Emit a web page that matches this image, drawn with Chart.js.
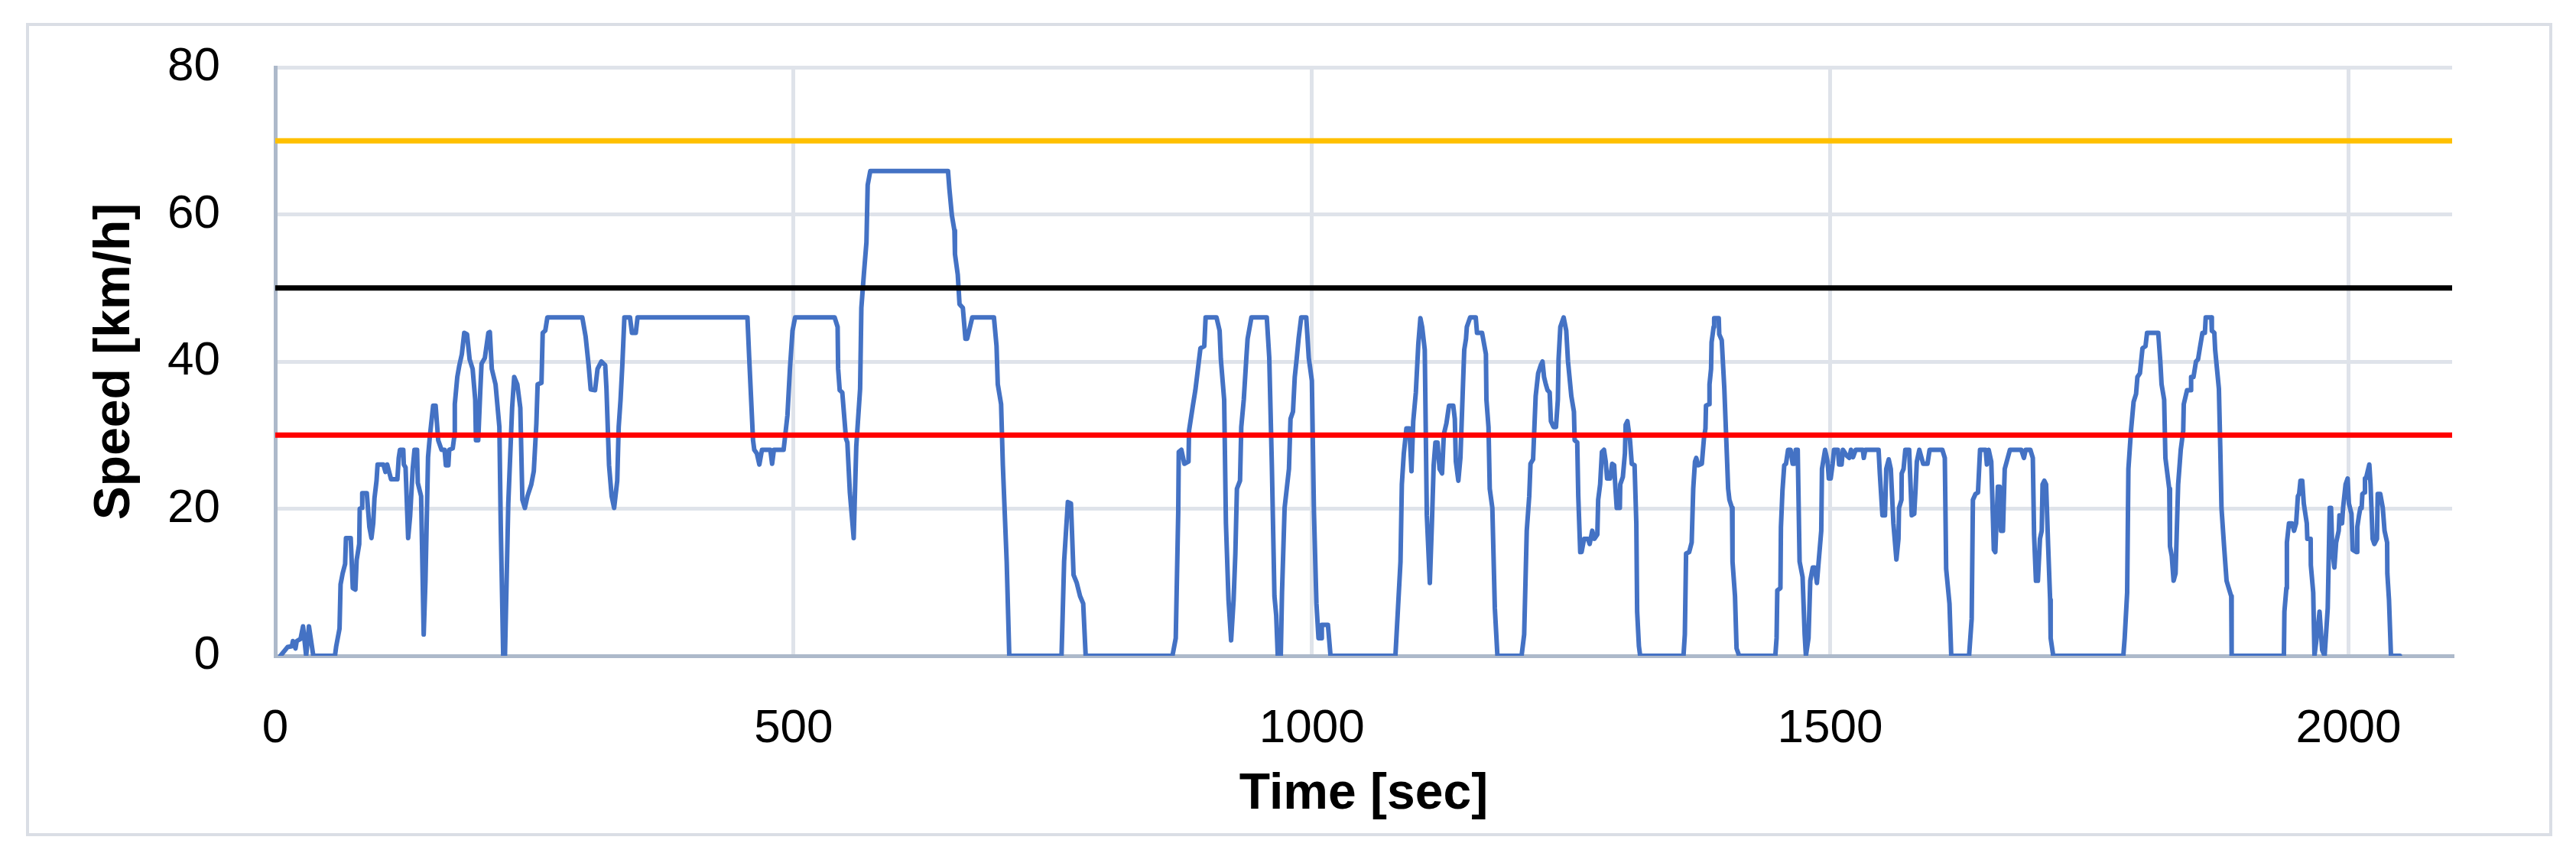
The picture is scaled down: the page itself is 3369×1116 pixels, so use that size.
<!DOCTYPE html>
<html>
<head>
<meta charset="utf-8">
<script src="https://cdn.jsdelivr.net/npm/chart.js@4.4.1/dist/chart.umd.min.js"></script>
<style>
  html, body { margin:0; padding:0; background:#fff; }
</style>
</head>
<body>
<canvas id="speedChart" width="3369" height="1116"></canvas>
<script>
  // drive cycle (time in s, speed in km/h)
  const timeSec = [
    5,12,16,17,19.5,20.7,24.4,26.8,29.8,32.5,36.7,57.6,58.8,62,63,65,67.4,68.2,72.8,74.8,77.3,78.5,81,81.5,83.4,83.9,88.3,90.8,92.8,94.5,95.7,97.7,98.7,
    104.3,106.3,108,111.7,117.8,119.1,120.3,123.5,124,125.7,128.2,130.1,132.6,134.3,136.8,137.5,140.7,143.2,144.9,147.4,149.1,152.3,154.7,157.2,160.4,163.3,164.6,167,167.8,
    171.2,172.7,173.2,175.6,177.6,180,182.3,185,187.5,190.4,192.9,193.6,195.8,197.8,199,202.2,205.6,207,208.9,212.5,216.2,217.5,219.9,221.6,224.8,228.5,230.5,233.5,236.4,
    238.4,240.8,243.3,247,249.4,251.9,253.1,256.8,258,260.5,262.5,296.2,299.4,302.3,304.3,308.5,310.9,314.6,318.3,319.5,322,324.5,326.9,329.9,331.3,333.1,334.8,336.8,
    342.2,344.1,347.8,349.5,455.5,457.2,460.9,462.1,464.6,467,469.5,477.6,479.3,481,490.4,494.1,496.5,499,501.5,539.6,542.5,543,544.5,547,550.6,551.9,554.3,558,560.5,
    564.2,565.4,567.9,570.3,571.5,574,649,650.3,652.7,655.2,655.7,658.4,660.1,663.3,665.8,667.5,672.4,693.3,695.8,697,700.2,701.9,705.6,708.1,758.5,761,764.6,767.6,
    770.1,773.2,776.4,779.4,781.8,865.5,868.7,871.1,871.6,874.1,877,881,881.5,885.2,887.6,890.1,892.5,896.2,897.5,908,911,912.2,915.4,917.1,919.6,922.1,924.5,926.2,
    927.7,930.7,931.9,934.3,936.8,938,941.7,956.5,958.9,961.4,963.9,965.6,967.1,970,971.2,973.7,977.9,979.4,981.8,983.5,985.3,987.2,989.7,994.6,997,1000,1002,1004.4,
    1006.4,1009.4,1009.6,1015.5,1018,1080.6,1083.1,1085.5,1086.8,1088.7,1091.2,1094.1,1096.1,1097.8,1100.3,1102.7,1104.7,1106.4,1108.9,1110.9,1113.8,1115.8,1117.5,
    1119.2,1121.2,1123.2,1125.6,1127.3,1129.8,1132.3,1136.4,1137.9,1138.9,1141.3,1143.3,1145.8,1147,1148.7,1149.5,1152.7,1158.1,1159.3,1164.2,1167.9,1168.4,1170.4,
    1171.6,1174.1,1176.5,1179,1202.3,1204.8,1207.3,1209.7,1210.9,1213.4,1215.9,1218.3,1220.8,1222.5,1224,1225.7,1227.4,1229.4,1230.6,1233.1,1235.5,1237.3,1238,1239.7,
    1242.9,1245.4,1247.1,1250.3,1252.8,1253.5,1256,1257,1258.9,1260.2,1262.6,1266.3,1268,1270.5,1272.5,1275.4,1276.2,1278.1,1279.8,1281.8,1283.5,1284.8,1287.7,1289.7,
    1291.6,1292.9,1294.1,1297.1,1297.5,1300,1302,1302.7,1304.4,1306.9,1308.6,1311.3,1313,1313.8,1315.5,1316.7,1358.5,1359.8,1361,1364,1366.4,1367.9,1369.6,1370.8,
    1372.8,1376.2,1378.2,1379.7,1380.2,1383.1,1383.6,1385.1,1385.6,1387.6,1388.1,1392.5,1393,1395.4,1397.9,1401.6,1402.8,1405.3,1405.8,1408.2,1409.7,1412.2,1447.1,
    1448.3,1449,1452,1452.5,1454,1455.7,1457.4,1459.4,1461.8,1463.8,1465.5,1466.8,1468.7,1470.5,1473.4,1475.4,1476.6,1479.1,1480.8,1483.2,1485.2,1487.2,1488.9,1491.4,
    1492.1,1495.1,1497.5,1498.7,1500.5,1502.4,1503.7,1507.4,1508.6,1511,1512.3,1516,1518.4,1520.1,1522.1,1524.6,1531.5,1532.4,1533.9,1546.7,1547.9,1550.4,1552.9,1554.1,
    1556.5,1558.5,1561,1563.9,1565.9,1566.4,1568.8,1569,1570.8,1572.5,1576.2,1578.7,1581.1,1582.4,1583.6,1586,1589.7,1593.9,1595.9,1608.2,1610.6,1611.9,1615.1,1616.8,
    1634,1636.5,1637.7,1640.2,1642.6,1644.6,1650,1651.2,1652.9,1655.4,1657.9,1659.3,1661.8,1663.5,1664.8,1666.7,1668.4,1670.9,1673.4,1684.4,1686.9,1688.6,1693.1,1695.5,
    1696.7,1698.5,1700.4,1702.4,1704.1,1704.9,1706.6,1708.3,1710.3,1712.2,1712.7,1715.2,1782.8,1784.1,1786.5,1787.7,1790.2,1792.7,1795.1,1796.4,1798.8,1801.3,1804.2,
    1805.7,1816.5,1818.5,1819.7,1822.2,1823.4,1827.1,1827.8,1829.5,1831.3,1833.2,1835.7,1838.2,1840.6,1841.1,1844.3,1848,1848.2,1850.5,1852.9,1854.9,1856.6,1859.1,
    1861.5,1862.3,1867.7,1868.2,1870.6,1871.4,1875,1876.3,1877.5,1880,1882.4,1886.9,1887.3,1937.7,1938.2,1940.1,1940.6,1942.6,1945.6,1947.5,1949.5,1951.2,1952.4,1953.7,
    1955.4,1956.9,1958.6,1959.8,1960.3,1963.5,1963.7,1966,1967.2,1969.7,1972.1,1974.6,1977,1980,1981.9,1983.2,1984.4,1986.4,1988.1,1990.6,1991.3,1993.8,1994.8,1997.2,
    1999.2,2000.4,2002.9,2004.1,2007.8,2008.5,2010.2,2011.5,2012.7,2013.4,2015.2,2015.9,2016.9,2020.1,2021.3,2023.3,2025,2027.5,2028.2,2030.7,2033.1,2034.8,2037.3,
    2037.5,2039.1,2041,2049.6
  ];
  const speedKmh = [
    0,1.2,1.3,2,1,2,2.3,4,0,4,0,0,1.3,3.7,9.7,11.2,12.5,16,16,9.2,9,13,15.2,20,20.1,22.1,22.1,17.5,16,18,21.4,23.8,26,
    26,25,26,24,24,26.9,28,28,26,25.6,16,19,25.4,28,28,23.5,21.7,2.9,10.2,27,29.8,34,34,29.3,28,28,25.9,25.9,28,
    28.2,29.8,34.2,37.9,39.5,41,43.9,43.7,40.3,39,34.8,29.3,29.3,36.1,39.7,40.5,43.9,44,39,36.9,31.1,18,0,0,20.7,33.7,37.9,36.9,33.7,
    21.2,20.1,21.7,23.3,25.1,31.6,36.9,37.1,43.9,44.2,46,46,43.4,39.5,36.2,36.1,39,40,39.5,36.3,25.9,21.7,20.1,23.8,31.1,34.8,39.5,46,
    46,43.9,43.9,46,46,40.5,29.3,28,27.5,26,28,28,26.1,28,28,32.7,39,44.2,46,46,44.7,39,36.1,35.8,29.5,29,22.2,16,28.5,
    36.3,47.3,52,56.2,64,65.9,65.9,63.5,59.9,57.8,54.6,51.8,47.8,47.3,43.1,43.1,46,46,42.1,36.9,34.2,25.9,12.8,0,0,12.8,20.9,20.7,
    11,9.9,8.1,7.1,0,0,2.4,19.6,27.7,28,26.1,26.4,30.6,34,36.1,39,41.8,42.1,46,46,44.2,40.3,34.8,18,7.6,2.1,7.6,13.9,
    22.7,23.8,31.1,34.8,40.5,43.1,46,46,40.5,25.9,8.1,5.5,0,0,8.6,20.1,25.4,32.2,33.2,37.9,40.3,43.1,46,46,40.5,37.4,19.6,7.1,
    2.4,2.4,4.2,4.2,0,0,6.5,12.8,23.3,27.5,30.9,30.9,25.1,31.9,35.8,42.4,45.9,44.7,41.6,19.1,9.9,18,25.9,
    29,29,25.4,24.8,30.1,31.6,34,34,32.2,26.4,23.8,26.9,36.9,41.6,43.1,44.7,46,46,43.9,43.9,41,34.8,31.1,
    22.7,20.1,6.5,0,0,2.9,17,21.7,26.1,26.7,35.3,38.4,39.5,40,37.9,36.9,36.1,35.8,31.9,31.1,31.1,34.8,40.3,44.7,
    46,44.2,40,35.3,33.2,29.3,29,21.7,14.1,14.1,15.9,15.9,15.2,17,15.9,16.5,21.2,23.3,27.7,28,26.4,24.1,24.1,26.1,
    25.9,22.7,20.1,20.1,23.3,24.3,27.5,31.4,31.9,29.3,26.1,25.9,18,6,1.3,0,0,2.9,13.9,14.1,15.4,22.7,26.4,26.9,
    25.9,26.1,29.5,30.9,34,34.2,36.9,39,42.6,44.7,45.9,45.9,43.7,42.9,36.3,22.7,21.2,20.1,12.8,8.1,1,0,0,
    2.4,8.9,9.2,17.5,22.5,25.9,26.1,28,28,26.1,26.1,28,28,12.8,10.7,2.9,0,2.4,10.2,12,12,9.9,12.8,17,
    25.4,28,26.4,24.1,24.1,26.1,28,28,26,26,28,27.2,26.9,28,27,28,28,26.9,28,28,24.8,19.1,19.1,25.4,
    26.7,25.4,18,13.1,15.9,20.1,21.2,24.8,25.4,28,28,19.1,19.3,22.7,26.4,28,26.1,26.1,28,28,26.9,11.8,7.1,0,
    0,5,21.2,22,22.2,28,28,26,28,26.4,14.4,14.1,23,23,17,17,25.4,26.7,28,28,26.9,28,28,26.9,
    16.5,10.2,10.2,15.9,17,23.3,23.8,23.3,14.9,7.6,2.4,0,0,2.4,8.6,25.4,30.6,34.5,35.6,37.9,38.4,41.8,42.1,
    43.9,43.9,40,36.9,34.8,26.9,22.7,14.9,13.6,10.2,11.2,23.3,28,30.6,34.2,36.1,36.1,37.9,37.9,40,40.3,41.8,43.9,
    43.9,46,46,44.2,43.9,41.6,36.3,28.5,20.1,14.9,10.2,8.1,0,0,6,9.2,15.4,18,18,17,18,21.7,22,23.8,
    23.8,20.7,19.1,18,15.9,15.9,12.3,8.6,0,2.9,6,0.8,0,6.5,20.1,20.1,14.4,12,15.4,17,19.1,18,20.1,23.3,
    24.1,20.7,19.3,14.4,14.1,17.5,19.1,20.1,20.1,22,22.2,24.1,24.1,26,23.3,15.9,15.2,15.9,22,22,20.1,17,15.4,
    11.2,7.6,0,0
  ];

  // horizontal reference speeds
  const limitSpeeds = [30, 50, 70];
  const limitColors = ['#ff0000', '#000000', '#ffc000'];

  const xRange = [0, 2100];
  const xTickValues = [0, 500, 1000, 1500, 2000];
  const yRange = [0, 80];
  const yStep = 20;

  const gridColor = '#dfe3ea';
  const axisColor = '#adb9ca';
  const tickFont = { family: 'Liberation Sans', size: 62 };
  const titleFont = { family: 'Liberation Sans', size: 66, weight: 'bold' };

  const cyclePoints = timeSec.map((t, i) => ({ x: t, y: speedKmh[i] }));

  const datasets = [{
    label: 'Speed',
    data: cyclePoints,
    borderColor: '#4472c4',
    borderWidth: 6,
    pointRadius: 0,
    tension: 0,
    borderJoinStyle: 'round',
    borderCapStyle: 'round',
    order: 5
  }];
  limitSpeeds.forEach((v, i) => {
    datasets.push({
      label: 'Limit ' + v,
      data: [{ x: xRange[0], y: v }, { x: xRange[1], y: v }],
      borderColor: limitColors[i],
      borderWidth: 7,
      pointRadius: 0,
      borderCapStyle: 'round',
      order: i
    });
  });

  const frame = {
    id: 'frame',
    beforeDraw(chart) {
      const ctx = chart.ctx;
      ctx.save();
      ctx.fillStyle = '#fff';
      ctx.fillRect(0, 0, chart.width, chart.height);
      ctx.strokeStyle = '#dadee5';
      ctx.lineWidth = 4;
      ctx.strokeRect(36, 32, 3300, 1060);
      ctx.restore();
    }
  };

  new Chart(document.getElementById('speedChart'), {
    type: 'line',
    data: { datasets },
    plugins: [frame],
    options: {
      responsive: false,
      devicePixelRatio: 1,
      animation: false,
      layout: { padding: { left: 0, top: 88, right: 162, bottom: 0 } },
      plugins: { legend: { display: false }, tooltip: { enabled: false } },
      scales: {
        x: {
          type: 'linear',
          min: xRange[0], max: xRange[1],
          afterBuildTicks: s => { s.ticks = xTickValues.map(v => ({ value: v })); },
          afterFit: s => { s.height = 258; s.paddingLeft = 0; s.paddingRight = 0; },
          ticks: { font: tickFont, color: '#000', padding: 59, maxRotation: 0, autoSkip: false, callback: v => String(v) },
          grid: { color: gridColor, lineWidth: 5, drawTicks: false },
          border: { color: axisColor, width: 5 },
          title: { display: true, text: 'Time [sec]', font: titleFont, color: '#000', padding: { top: 0, bottom: 37 } }
        },
        y: {
          min: yRange[0], max: yRange[1],
          afterFit: s => { s.width = 360; s.paddingTop = 0; s.paddingBottom = 0; },
          ticks: { stepSize: yStep, font: tickFont, color: '#000', padding: 72, callback: v => String(v) },
          grid: { color: gridColor, lineWidth: 5, drawTicks: false },
          border: { color: axisColor, width: 5 },
          title: { display: true, text: 'Speed [km/h]', font: titleFont, color: '#000', padding: { top: 111, bottom: 0 } }
        }
      }
    }
  });
</script>
</body>
</html>
